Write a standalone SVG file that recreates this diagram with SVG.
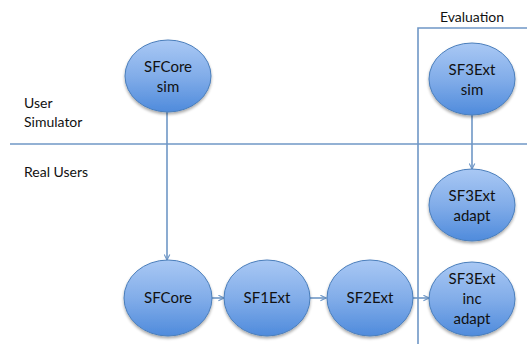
<svg xmlns="http://www.w3.org/2000/svg" width="527" height="344" viewBox="0 0 527 344">
<defs>
<linearGradient id="g" x1="0" y1="0" x2="0" y2="1">
<stop offset="0" stop-color="#a9c8f4"/>
<stop offset="0.5" stop-color="#82ade9"/>
<stop offset="1" stop-color="#4f8bdc"/>
</linearGradient>
<filter id="sh" x="-20%" y="-20%" width="140%" height="150%">
<feGaussianBlur in="SourceAlpha" stdDeviation="1.5"/>
<feOffset dx="0" dy="2" result="b"/>
<feComponentTransfer><feFuncA type="linear" slope="0.35"/></feComponentTransfer>
<feMerge><feMergeNode/><feMergeNode in="SourceGraphic"/></feMerge>
</filter>
<marker id="ar" viewBox="0 0 10 10" refX="9" refY="5" markerWidth="7" markerHeight="7" orient="auto" markerUnits="userSpaceOnUse">
<path d="M1,1 L9,5 L1,9" fill="none" stroke="#6f97c6" stroke-width="1.6"/>
</marker>
</defs>
<style>
.n ellipse{fill:url(#g);stroke:#4a7ebb;stroke-width:1;filter:url(#sh)}
.n text{font-family:Lato,"Open Sans",sans-serif;font-size:15px;fill:#111;text-anchor:middle}
.lbl{font-family:Lato,"Open Sans",sans-serif;font-size:14px;fill:#111}
.ln{stroke:#6f97c6;stroke-width:1.6;fill:none}
</style>
<g id="frame">
<line class="ln" x1="10" y1="144" x2="527" y2="144" stroke-width="2"/>
<polyline class="ln" points="418,344 418,28 527,28"/>
</g>
<g id="labels">
<text class="lbl" x="472" y="22" text-anchor="middle">Evaluation</text>
<text class="lbl" x="24" y="108">User</text>
<text class="lbl" x="24" y="127">Simulator</text>
<text class="lbl" x="24" y="177">Real Users</text>
</g>
<g id="connectors">
<line class="ln" x1="167" y1="112" x2="167" y2="260" marker-end="url(#ar)"/>
<line class="ln" x1="472" y1="115" x2="472" y2="169" marker-end="url(#ar)"/>
<line class="ln" x1="212" y1="298" x2="224" y2="298" marker-end="url(#ar)"/>
<line class="ln" x1="310" y1="298" x2="326" y2="298" marker-end="url(#ar)"/>
<line class="ln" x1="413" y1="298" x2="429" y2="298" marker-end="url(#ar)"/>
</g>
<g id="sfcore-sim" class="n"><ellipse cx="168" cy="76" rx="43" ry="36"/><text x="168" y="72">SFCore</text><text x="168" y="92">sim</text></g>
<g id="sf3ext-sim" class="n"><ellipse cx="472" cy="79" rx="43" ry="36"/><text x="472" y="75">SF3Ext</text><text x="472" y="95">sim</text></g>
<g id="sf3ext-adapt" class="n"><ellipse cx="472" cy="205" rx="43" ry="36"/><text x="472" y="201">SF3Ext</text><text x="472" y="221">adapt</text></g>
<g id="sfcore" class="n"><ellipse cx="168" cy="298" rx="44" ry="38"/><text x="168" y="303">SFCore</text></g>
<g id="sf1ext" class="n"><ellipse cx="267" cy="298" rx="43" ry="38"/><text x="267" y="303">SF1Ext</text></g>
<g id="sf2ext" class="n"><ellipse cx="370" cy="298" rx="43" ry="38"/><text x="370" y="303">SF2Ext</text></g>
<g id="sf3ext-inc-adapt" class="n"><ellipse cx="472" cy="299" rx="43" ry="37"/><text x="472" y="284">SF3Ext</text><text x="472" y="304">inc</text><text x="472" y="324">adapt</text></g>
</svg>
